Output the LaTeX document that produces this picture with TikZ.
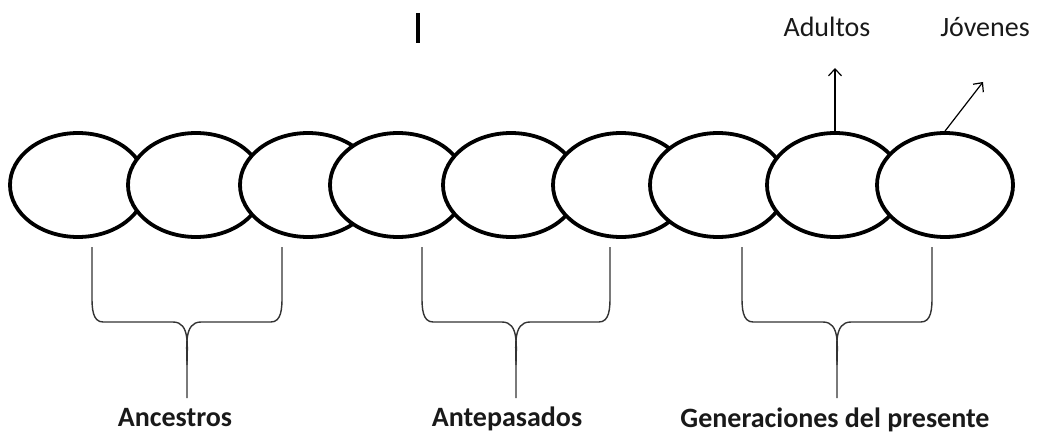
\documentclass[tikz,border=0pt]{standalone}
\usepackage{fontspec}
\setmainfont{Carlito}
\usetikzlibrary{shapes.geometric,arrows.meta}
\tikzset{
  link/.style={draw=black, line width=3.8pt, fill=white, ellipse, minimum width=136pt, minimum height=104pt, inner sep=0pt},
  brace/.style={draw=black!80, line width=1.4pt},
  pointer/.style={draw=black, line width=1.2pt, -{Straight Barb[length=7pt,width=13pt,line width=1.2pt]}},
  toplabel/.style={font=\fontsize{28}{32}\selectfont, text=black!90, anchor=base, inner sep=0pt},
  grouplabel/.style={font=\fontsize{28}{32}\selectfont\bfseries, text=black!90, anchor=base, inner sep=0pt}
}
\newcommand{\groupbrace}[3]{%
  \draw[brace] (#1,-247) -- (#1,-297) to[out=-90,in=180] (#1+11,-322) -- (#2-14,-322) to[out=0,in=90] (#2,-365) -- (#2,-398);
  \draw[brace] (#3,-247) -- (#3,-297) to[out=-90,in=0] (#3-11,-322) -- (#2+14,-322) to[out=180,in=90] (#2,-365);
}
\begin{document}
\begin{tikzpicture}[x=1pt,y=1pt]
\useasboundingbox (0,0) rectangle (1038,-433);
% chain of links
\node[link] (e1) at (78,-185) {};
\node[link] (e2) at (196,-185) {};
\node[link] (e3) at (308,-185) {};
\node[link] (e4) at (398,-185) {};
\node[link] (e5) at (511,-185) {};
\node[link] (e6) at (621,-185) {};
\node[link] (e7) at (718,-185) {};
\node[link] (e8) at (835,-185) {};
\node[link] (e9) at (945,-185) {};
% cursor bar
\draw[line width=3.5pt] (418,-13) -- (418,-43);
% arrows and top labels
\coordinate (a8) at (835,-68);
\coordinate (a9) at (983,-82);
\draw[pointer] (e8.north) -- (a8);
\draw[pointer] (e9.north) -- (a9);
\node[toplabel] (adultos) at (827,-37) {Adultos};
\node[toplabel] (jovenes) at (985,-37) {Jóvenes};
% braces
\groupbrace{92}{187}{282}
\groupbrace{422}{516}{610}
\groupbrace{742}{837}{932}
% group labels
\node[grouplabel] (anc) at (175,-426) {Ancestros};
\node[grouplabel] (ant) at (507,-426) {Antepasados};
\node[grouplabel] (gen) at (835,-427) {Generaciones del presente};
\end{tikzpicture}
\end{document}
